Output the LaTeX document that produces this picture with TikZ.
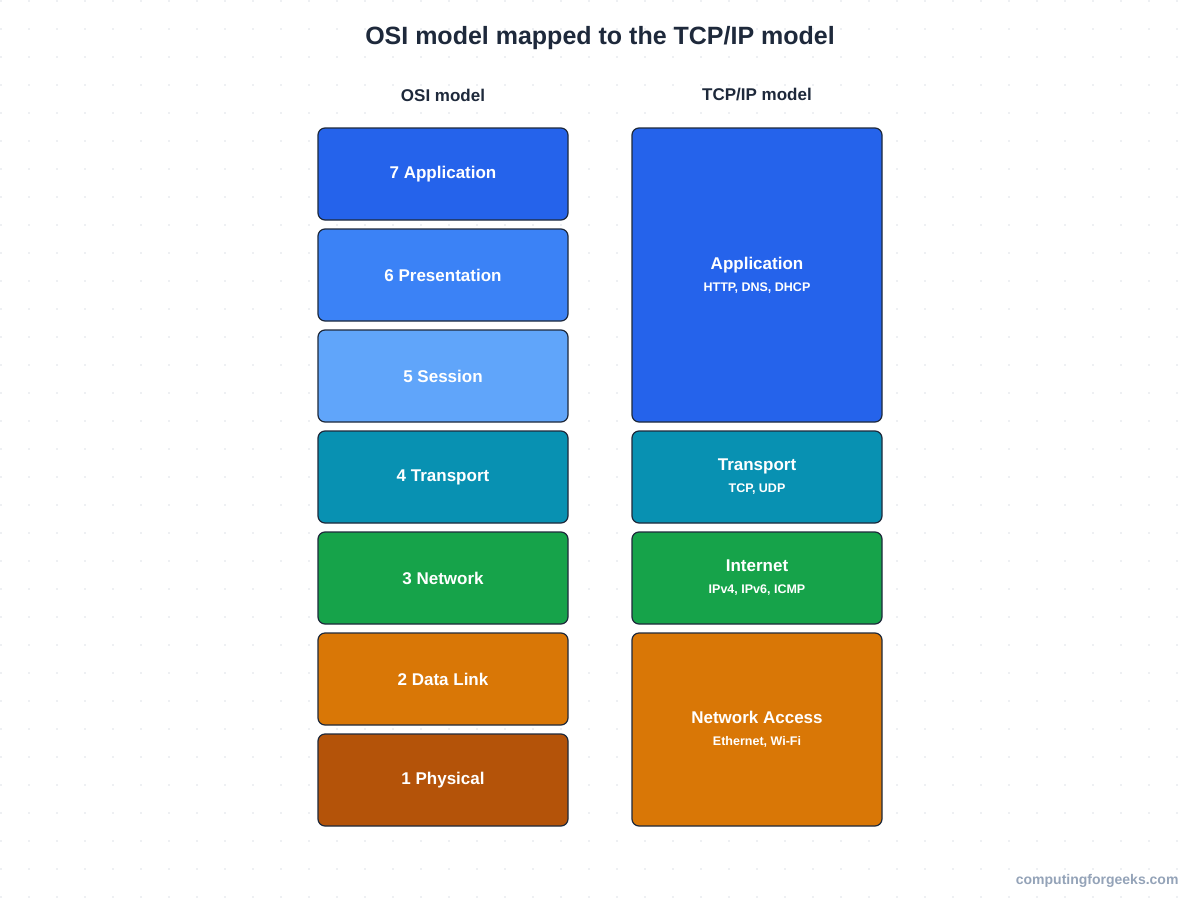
\documentclass[tikz,border=0pt]{standalone}
\usepackage{fontspec}
\setmainfont{Liberation Sans}
\definecolor{c7}{HTML}{2563EB}\definecolor{c6}{HTML}{3B82F6}\definecolor{c5}{HTML}{60A5FA}
\definecolor{c4}{HTML}{0891B2}\definecolor{c3}{HTML}{16A34A}\definecolor{c2}{HTML}{D97706}
\definecolor{c1}{HTML}{B45309}\definecolor{ink}{HTML}{1E293B}\definecolor{foot}{HTML}{94A3B8}
\definecolor{dotc}{HTML}{EEF0F3}
\newcommand\subtxt{\bfseries\fontsize{12.5}{15}\selectfont}
\begin{document}
\begin{tikzpicture}[x=1pt,y=-1pt,
  layer/.style={draw=ink,line width=1.2pt,rounded corners=7pt,text=white,font=\bfseries\fontsize{17}{20}\selectfont,align=center,inner sep=0pt}]
\useasboundingbox (0,0) rectangle (1200,900);
\fill[white] (0,0) rectangle (1200,900);
\foreach \i in {0,...,42}{\foreach \j in {0,...,32}{\fill[dotc] (1+28*\i-1,1+28*\j-1) rectangle ++(2,2);}}
\node[text=ink,font=\bfseries\fontsize{25}{30}\selectfont] (title) at (600,38) {OSI model mapped to the TCP/IP model};
\node[text=ink,font=\bfseries\fontsize{17}{20}\selectfont] (h1) at (443,95) {OSI model};
\node[text=ink,font=\bfseries\fontsize{17}{20}\selectfont] (h2) at (757,95) {TCP/IP model};
\foreach \n/\t/\c [count=\k from 0] in {7/7 Application/c7,6/6 Presentation/c6,5/5 Session/c5,4/4 Transport/c4,3/3 Network/c3,2/2 Data Link/c2,1/1 Physical/c1}{
  \draw[layer,fill=\c] (318,128+101*\k) rectangle (568,220+101*\k);
  \node[layer,draw=none] (o\n) at (443,174+101*\k) {\t};
}
\draw[layer,fill=c7] (632,128) rectangle (882,422);
\node[layer,draw=none] (ta) at (757,275) {Application\\[2pt]{\subtxt HTTP, DNS, DHCP}};
\draw[layer,fill=c4] (632,431) rectangle (882,523);
\node[layer,draw=none] (tt) at (757,477) {Transport\\[2pt]{\subtxt TCP, UDP}};
\draw[layer,fill=c3] (632,532) rectangle (882,624);
\node[layer,draw=none] (ti) at (757,578) {Internet\\[2pt]{\subtxt IPv4, IPv6, ICMP}};
\draw[layer,fill=c2] (632,633) rectangle (882,826);
\node[layer,draw=none] (tn) at (757,729) {Network Access\\[2pt]{\subtxt Ethernet, Wi-Fi}};
\node[text=foot,font=\bfseries\fontsize{14}{16}\selectfont,anchor=east] (ft) at (1182,881) {computingforgeeks.com};
\end{tikzpicture}
\end{document}
